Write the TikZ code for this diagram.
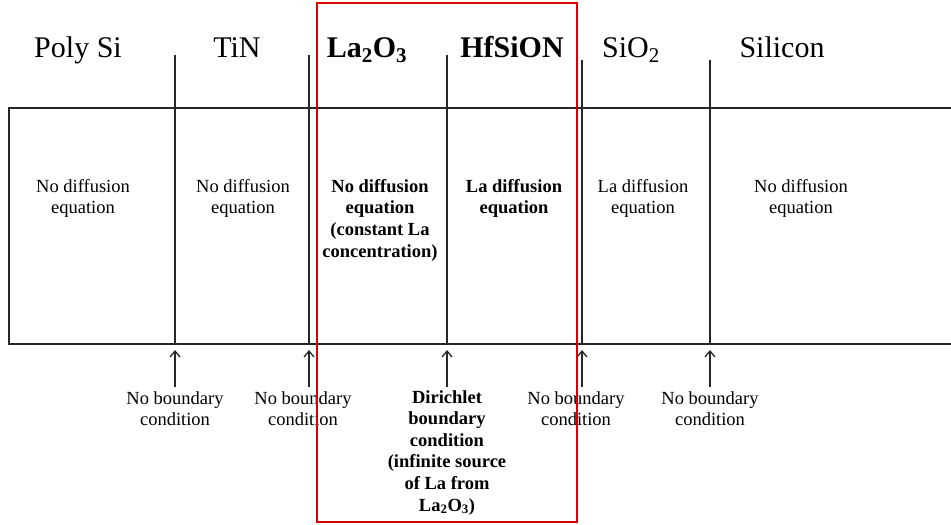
\documentclass[tikz,border=0pt]{standalone}
\usepackage{fontspec}
\setmainfont{Liberation Serif}
\usetikzlibrary{arrows.meta}

\begin{document}
\begin{tikzpicture}[x=1pt, y=-1pt,
    layer/.style={font=\fontsize{30}{34}\selectfont, anchor=base, inner sep=0pt},
    info/.style={font=\fontsize{18.5}{21.6}\selectfont, align=center, anchor=north, inner sep=0pt},
    wall/.style={line width=1.3pt, black!85},
    hint/.style={-{Straight Barb[length=6pt, width=10pt]}, line width=1.3pt, black!85}]

    \useasboundingbox (0,0) rectangle (951,525);

    % Layer names on top
    \node[layer] (poly) at (78,57) {Poly Si};
    \node[layer] (tin) at (237,57) {TiN};
    \node[layer] (lao) at (367,57) {\textbf{La\textsubscript{2}O\textsubscript{3}}};
    \node[layer] (hfsion) at (512,57) {\textbf{HfSiON}};
    \node[layer] (sio) at (631,57) {SiO\textsubscript{2}};
    \node[layer] (si) at (782,57) {Silicon};

    % The stack, open on the right
    \draw[wall] (951,108) -- (9,108) -- (9,344) -- (951,344);

    % Interfaces between the layers
    \coordinate (t1) at (175,55);  \coordinate (b1) at (175,344);
    \coordinate (t2) at (309,55);  \coordinate (b2) at (309,344);
    \coordinate (t3) at (447,55);  \coordinate (b3) at (447,344);
    \coordinate (t4) at (582,60);  \coordinate (b4) at (582,344);
    \coordinate (t5) at (710,60);  \coordinate (b5) at (710,344);
    \foreach \i in {1,...,5}
        \draw[wall] (t\i) -- (b\i);

    % Equations inside each layer
    \node[info] (eq1) at (83,179) {No diffusion\\equation};
    \node[info] (eq2) at (243,179) {No diffusion\\equation};
    \node[info, font=\fontsize{18.5}{21.6}\selectfont\bfseries] (eq3) at (380,179)
        {No diffusion\\equation\\(constant La\\concentration)};
    \node[info, font=\fontsize{18.5}{21.6}\selectfont\bfseries] (eq4) at (514,179)
        {La diffusion\\equation};
    \node[info] (eq5) at (643,179) {La diffusion\\equation};
    \node[info] (eq6) at (801,179) {No diffusion\\equation};

    % Boundary conditions below
    \node[info] (bc1) at (175,391) {No boundary\\condition};
    \node[info] (bc2) at (303,391) {No boundary\\condition};
    \node[info, font=\fontsize{18.5}{21.6}\selectfont\bfseries] (bc3) at (447,390)
        {Dirichlet\\boundary\\condition\\(infinite source\\of La from\\La\textsubscript{2}O\textsubscript{3})};
    \node[info] (bc4) at (576,391) {No boundary\\condition};
    \node[info] (bc5) at (710,391) {No boundary\\condition};

    \coordinate (a1) at (175,387);  \coordinate (h1) at (175,350);
    \coordinate (a2) at (309,387);  \coordinate (h2) at (309,350);
    \coordinate (a3) at (447,387);  \coordinate (h3) at (447,350);
    \coordinate (a4) at (582,387);  \coordinate (h4) at (582,350);
    \coordinate (a5) at (710,387);  \coordinate (h5) at (710,350);
    \foreach \i in {1,...,5}
        \draw[hint] (a\i) -- (h\i);

    % Highlight of the La2O3 / HfSiON pair
    \node[draw=red!85!black, line width=1.4pt, inner sep=0pt, minimum width=260pt,
          minimum height=519pt] (focus) at (447,262.5) {};
\end{tikzpicture}
\end{document}
